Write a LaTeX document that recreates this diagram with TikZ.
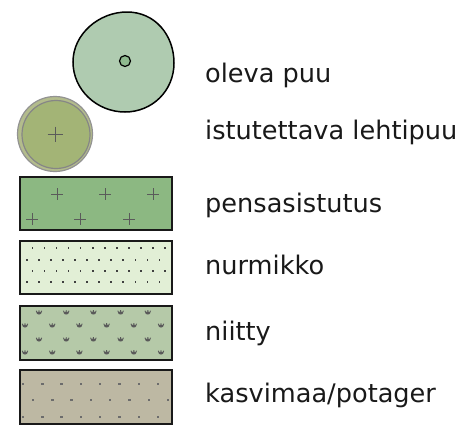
\documentclass[tikz,border=0pt]{standalone}
\usepackage{fontspec}
\setmainfont{DejaVu Sans}
\definecolor{treefill}{HTML}{AFCBB0}
\definecolor{trunkfill}{HTML}{8FBA8F}
\definecolor{leafout}{HTML}{B3BC8C}
\definecolor{leafin}{HTML}{A3B476}
\definecolor{shrubfill}{HTML}{8CB882}
\definecolor{lawnfill}{HTML}{E2EFD6}
\definecolor{meadowfill}{HTML}{B5C9A8}
\definecolor{gardenfill}{HTML}{BDB8A3}
\definecolor{markgray}{HTML}{5A5A5A}
\newcommand\plusmark[3]{\draw[markgray,line width=1pt] (#1-#3,#2) -- (#1+#3,#2) (#1,#2-#3) -- (#1,#2+#3);}
\newcommand\tuftmark[2]{%
  \fill[markgray] (#1,#2) ellipse (2.4pt and 1.5pt);
  \draw[markgray,line width=0.9pt] (#1-1.8,#2) -- (#1-2.8,#2-2.3) (#1,#2) -- (#1,#2-2.8) (#1+1.8,#2) -- (#1+2.8,#2-2.3);}
\begin{document}
\begin{tikzpicture}[x=1pt,y=-1pt,
  swatch/.style={draw=black!90,line width=1.6pt},
  label/.style={anchor=base west,inner sep=0pt,font=\fontsize{25.6}{30}\selectfont,text=black!90}]
\useasboundingbox (0,0) rectangle (466,426);
% existing tree (slightly irregular circle)
\draw[fill=treefill,line width=1.5pt] (174,63)
  .. controls (174,91) and (152,112) .. (125,112)
  .. controls (97,112) and (73,90) .. (73,62)
  .. controls (73,34) and (99,12) .. (127,12)
  .. controls (155,12) and (174,35) .. (174,63) -- cycle;
\node[circle,draw=black,fill=trunkfill,line width=1.2pt,minimum size=11pt,inner sep=0pt] (trunk) at (125,61) {};
% planted deciduous tree
\node[circle,draw=gray!85,fill=leafout,line width=1.2pt,minimum size=75pt,inner sep=0pt] (leafouter) at (55,134) {};
\node[circle,draw=gray!95,fill=leafin,line width=1.2pt,minimum size=68pt,inner sep=0pt] (leafinner) at (56,134.5) {};
\plusmark{55}{134}{7.5}
% shrub planting
\node[swatch,fill=shrubfill,minimum width=152pt,minimum height=53pt,inner sep=0pt] (shrub) at (96,203.5) {};
\foreach \x in {57,105,153} {\plusmark{\x}{194}{6}}
\foreach \x in {32,80,129} {\plusmark{\x}{219}{6}}
% lawn
\node[fill=lawnfill,minimum width=152pt,minimum height=53pt,inner sep=0pt] (lawn) at (96,267.5) {};
\begin{scope}
\clip (20,241) rectangle (172,294);
\foreach \y in {248,271} {\foreach \k in {0,...,12} {\fill[black!75] (20.3+12.07*\k-0.8,\y-0.8) rectangle ++(1.6,1.6);}}
\foreach \y in {260,282} {\foreach \k in {0,...,12} {\fill[black!75] (26.7+12.07*\k-0.8,\y-0.8) rectangle ++(1.6,1.6);}}
\end{scope}
\draw[swatch] (lawn.north west) rectangle (lawn.south east);
% meadow
\node[swatch,fill=meadowfill,minimum width=152pt,minimum height=54pt,inner sep=0pt] (meadow) at (96,333) {};
\foreach \y in {313,340} {\foreach \k in {0,...,4} {\tuftmark{39+27.2*\k}{\y}}}
\foreach \y in {326,353} {\foreach \k in {0,...,5} {\tuftmark{25+27.2*\k}{\y}}}
% vegetable garden
\node[swatch,fill=gardenfill,minimum width=152pt,minimum height=54pt,inner sep=0pt] (garden) at (96,397) {};
\foreach \y in {384,417} {\foreach \k in {0,...,7} {\fill[gray!85!black] (23+19.3*\k-1.2,\y-0.7) rectangle ++(2.4,1.4);}}
\foreach \k in {0,...,7} {\fill[gray!85!black] (33+19.3*\k-1.2,400-0.7) rectangle ++(2.4,1.4);}
% labels
\node[label] (t1) at (205,82) {oleva puu};
\node[label] (t2) at (205,139.5) {istutettava lehtipuu};
\node[label] (t3) at (205,212) {pensasistutus};
\node[label] (t4) at (205,274) {nurmikko};
\node[label] (t5) at (205,340) {niitty};
\node[label] (t6) at (205,402) {kasvimaa/potager};
\end{tikzpicture}
\end{document}
